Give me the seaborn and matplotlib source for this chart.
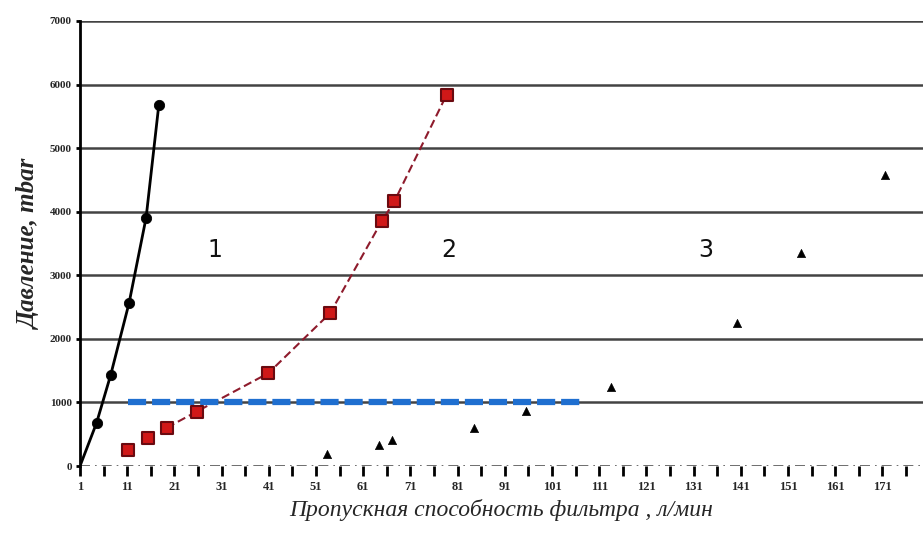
import numpy as np
import matplotlib
matplotlib.use("Agg")
import matplotlib.pyplot as plt
import seaborn as sns

# filter 1 (black circles)
x1 = [1, 4.5, 7.5, 11.4, 15.0, 17.7]
y1 = [0, 677, 1433, 2567, 3906, 5685]
# filter 2 (red squares)
x2 = [11.2, 15.5, 19.4, 25.7, 40.9, 54.0, 64.9, 67.6, 78.7]
y2 = [252, 446, 603, 855, 1460, 2405, 3847, 4162, 5843]
# filter 3 (triangles)
x3 = [53.4, 64.3, 67.0, 84.5, 95.5, 113.6, 140.1, 153.7, 171.5]
y3 = [189, 326, 409, 594, 866, 1239, 2247, 3350, 4583]
# limit line
x_lim = [11.2, 107.5]
y_lim = [1000, 1000]

labels = ["1", "2", "3"]
label_x = [29.6, 79.2, 133.6]
label_y = [3390, 3390, 3390]

sns.set_style("white")
plt.rcParams['font.family'] = ['Liberation Serif', 'DejaVu Serif']

fig = plt.figure(figsize=(9.23, 5.33), dpi=100)
ax = fig.add_axes([0.0867, 0.1257, 0.9133, 0.835])

for yv in range(1000, 8000, 1000):
    ax.axhline(yv, color='#222222', lw=1.8, alpha=0.85, zorder=0)
ax.axhline(0, color='#555555', lw=1.2, ls=(0, (6, 3, 1, 3)), zorder=0)

sns.lineplot(x=x1, y=y1, ax=ax, color='black', lw=2, sort=False)
sns.scatterplot(x=x1[1:], y=y1[1:], ax=ax, color='black', s=55, marker='o',
                edgecolor='black', zorder=5)

sns.lineplot(x=x2[2:], y=y2[2:], ax=ax, color='#8e1b2c', lw=1.5, sort=False,
             linestyle=(0, (4, 2)))
sns.scatterplot(x=x2, y=y2, ax=ax, color='#d01818', s=80, marker='s',
                edgecolor='#6a0a10', linewidth=1.5, zorder=5)

sns.scatterplot(x=x3, y=y3, ax=ax, color='black', s=35, marker='^',
                edgecolor='black', zorder=5)

sns.lineplot(x=x_lim, y=y_lim, ax=ax, color='#1f6fd0', lw=4.5, sort=False,
             linestyle=(0, (2.9, 0.95)))

for t, tx, ty in zip(labels, label_x, label_y):
    ax.text(tx, ty, t, ha='center', va='center', fontsize=17,
            family=['DejaVu Sans'], color='#111111')

ax.set_xlim(1, 179.6)
ax.set_ylim(0, 7000)
ax.set_xticks(np.arange(1, 180, 5))
ax.set_xticklabels([str(v) if (v - 1) % 10 == 0 else '' for v in range(1, 180, 5)],
                   fontsize=9, fontweight='bold')
ax.set_yticks(range(0, 8000, 1000))
ax.set_yticklabels([str(v) for v in range(0, 8000, 1000)], fontsize=8,
                   fontweight='bold')
ax.tick_params(axis='x', bottom=True, direction='out', length=7, width=2,
               pad=4, color='black')
ax.tick_params(axis='y', left=True, direction='out', length=3, width=2,
               pad=3, color='black')

for s in ['top', 'right', 'bottom']:
    ax.spines[s].set_visible(False)
ax.spines['left'].set_linewidth(2)
ax.spines['left'].set_color('black')

ax.set_xlabel("Пропускная способность фильтра , л/мин", fontsize=17,
              style='italic', labelpad=4)
ax.set_ylabel("Давление, mbar", fontsize=18, style='italic',
              fontweight='bold', labelpad=6)

fig.savefig("out.png", dpi=100)
